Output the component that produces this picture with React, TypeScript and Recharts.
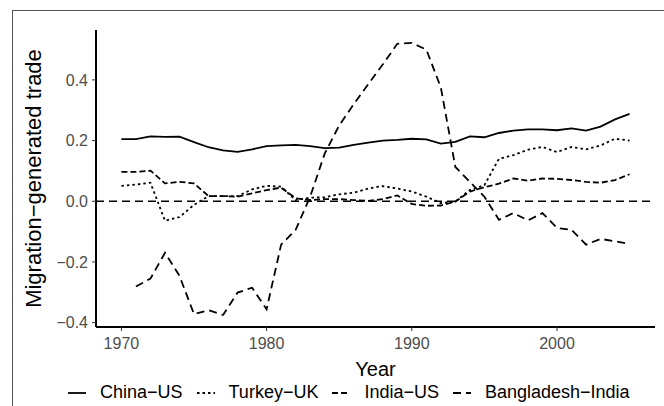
import React from "react";
import { CartesianGrid, Legend, Line, LineChart, ReferenceLine, XAxis, YAxis } from "recharts";

const years = [
  1970, 1971, 1972, 1973, 1974, 1975, 1976, 1977, 1978, 1979, 1980, 1981, 1982, 1983, 1984, 1985, 1986, 1987,
  1988, 1989, 1990, 1991, 1992, 1993, 1994, 1995, 1996, 1997, 1998, 1999, 2000, 2001, 2002, 2003, 2004, 2005,
];

const chinaUS = [
  0.205, 0.205, 0.214, 0.212, 0.213, 0.195, 0.178, 0.168, 0.163, 0.171, 0.182, 0.184, 0.186, 0.182, 0.175, 0.177,
  0.186, 0.193, 0.2, 0.202, 0.206, 0.204, 0.19, 0.196, 0.214, 0.211, 0.225, 0.233, 0.237, 0.237, 0.234, 0.24,
  0.233, 0.246, 0.27, 0.288,
];

const turkeyUK = [
  0.051, 0.055, 0.061, -0.064, -0.052, -0.012, 0.017, 0.017, 0.017, 0.039, 0.051, 0.048, 0.004, 0.012, 0.013,
  0.023, 0.028, 0.042, 0.05, 0.042, 0.032, 0.015, -0.006, -0.001, 0.037, 0.053, 0.14, 0.152, 0.17, 0.179, 0.162,
  0.179, 0.171, 0.184, 0.206, 0.2,
];

const indiaUS = [
  0.097, 0.097, 0.101, 0.059, 0.064, 0.059, 0.017, 0.017, 0.015, 0.026, 0.037, 0.045, 0.01, 0.004, 0.007, 0.007,
  0.004, 0.001, 0.007, 0.019, -0.009, -0.015, -0.014, -0.001, 0.032, 0.046, 0.058, 0.075, 0.068, 0.075, 0.074,
  0.07, 0.064, 0.061, 0.07, 0.089,
];

// no value for 1970
const bangladeshIndia = [
  null, -0.281, -0.255, -0.17, -0.246, -0.372, -0.359, -0.375, -0.301, -0.285, -0.356, -0.143, -0.094, 0.015,
  0.157, 0.25, 0.32, 0.386, 0.451, 0.519, 0.522, 0.5, 0.375, 0.113, 0.064, 0.015, -0.061, -0.039, -0.063,
  -0.039, -0.088, -0.094, -0.143, -0.124, -0.132, -0.141,
];

const xTicks = [1970, 1980, 1990, 2000];
const yTicks = [-0.4, -0.2, 0, 0.2, 0.4];

const series = [
  { key: "chinaUS", name: "China\u2212US", dash: undefined },
  { key: "turkeyUK", name: "Turkey\u2212UK", dash: "2.5 3" },
  { key: "indiaUS", name: "India\u2212US", dash: "6 3" },
  { key: "bangladeshIndia", name: "Bangladesh\u2212India", dash: "8 5" },
];

const data = years.map((year, i) => ({
  year,
  chinaUS: chinaUS[i],
  turkeyUK: turkeyUK[i],
  indiaUS: indiaUS[i],
  bangladeshIndia: bangladeshIndia[i],
}));

const font = "'Liberation Sans', Arial, sans-serif";

function fmt(v: number) {
  const s = Math.abs(v).toFixed(1);
  return v < 0 ? `\u2212${s}` : s;
}

function YTitle({ viewBox }: any) {
  const x = viewBox.x + 33;
  const y = viewBox.y + viewBox.height / 2;
  return (
    <text x={x} y={y} transform={`rotate(-90, ${x}, ${y})`} textAnchor="middle" dominantBaseline="central"
      fontSize={22} fill="#000" fontFamily={font}>
      Migration{"\u2212"}generated trade
    </text>
  );
}

function XTitle({ viewBox }: any) {
  return (
    <text x={viewBox.x + viewBox.width / 2} y={viewBox.y + 42} textAnchor="middle" dominantBaseline="central"
      fontSize={20} fill="#000" fontFamily={font}>
      Year
    </text>
  );
}

function LegendRow() {
  return (
    <div style={{ display: "flex", alignItems: "center", fontFamily: font, fontSize: 18, color: "#000" }}>
      {series.map((s) => (
        <div key={s.key} style={{ display: "flex", alignItems: "center", marginRight: 14 }}>
          <svg width={18} height={6} style={{ marginRight: 14 }}>
            <line x1={0} y1={3} x2={18} y2={3} stroke="#000" strokeWidth={1.8} strokeDasharray={s.dash} />
          </svg>
          <span>{s.name}</span>
        </div>
      ))}
    </div>
  );
}

export default function App() {
  return (
    <div style={{ position: "absolute", left: 0, top: 0, width: 664, height: 406, overflow: "hidden", background: "#fff" }}>
      <div style={{ position: "absolute", left: 12, top: 10, width: 700, height: 500, border: "1px solid #555" }} />
      <LineChart width={664} height={406} data={data} margin={{ top: 30, right: 9, bottom: 0, left: 0 }}
        style={{ position: "absolute", left: 0, top: 0 }}>
        <CartesianGrid stroke="none" />
        <XAxis dataKey="year" type="number" domain={[1968.25, 2006.75]} ticks={xTicks} allowDataOverflow
          height={79} tickSize={4} tickMargin={7} axisLine={{ stroke: "#000", strokeWidth: 2 }}
          tickLine={{ stroke: "#333", strokeWidth: 1 }} tick={{ fill: "#4d4d4d", fontSize: 16, fontFamily: font }}
          label={<XTitle />} />
        <YAxis type="number" domain={[-0.4145, 0.5645]} ticks={yTicks} allowDataOverflow width={96}
          tickSize={4} tickMargin={4} tickFormatter={fmt} axisLine={{ stroke: "#000", strokeWidth: 2 }}
          tickLine={{ stroke: "#333", strokeWidth: 1 }} tick={{ fill: "#4d4d4d", fontSize: 16, fontFamily: font }}
          label={<YTitle />} />
        <ReferenceLine y={0} stroke="#000" strokeWidth={1.6} strokeDasharray="8 5" />
        {series.map((s) => (
          <Line key={s.key} dataKey={s.key} name={s.name} type="linear" stroke="#000" strokeWidth={1.8}
            strokeDasharray={s.dash} dot={false} activeDot={false} isAnimationActive={false} />
        ))}
        <Legend layout="horizontal" verticalAlign="middle" align="center" content={<LegendRow />}
          wrapperStyle={{ top: 382, left: 68, width: 600 }} />
      </LineChart>
    </div>
  );
}
